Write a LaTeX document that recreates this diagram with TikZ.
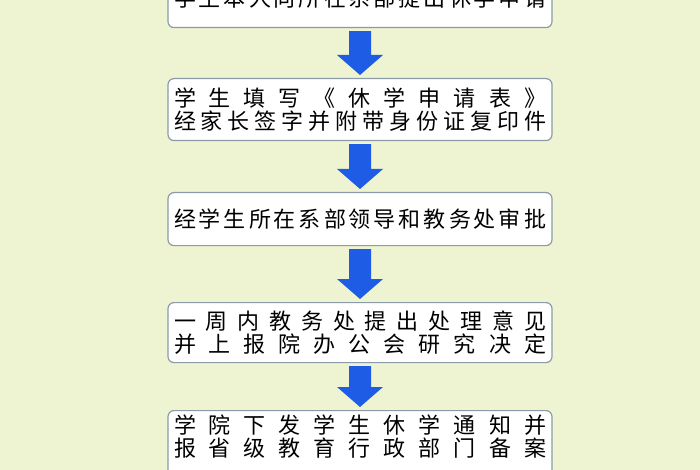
\documentclass[tikz,border=0pt]{standalone}
\usepackage{fontspec}
\usetikzlibrary{calc}
\newfontfamily\cjk{Noto Sans CJK SC}
\newcommand{\spreadtxt}[1]{\makebox[372pt][s]{#1}}
\definecolor{bgc}{HTML}{EEF4D2}
\definecolor{arrc}{HTML}{1E5CE6}
\definecolor{bordc}{HTML}{8C9AA8}
\begin{document}
\begin{tikzpicture}[x=1pt,y=-1pt,
  stepbox/.style={draw=bordc,line width=1.2pt,fill=white,rounded corners=6pt,minimum width=384pt,anchor=north,font=\cjk\fontsize{22}{25}\selectfont,align=center,inner sep=0pt},
  downarrow/.style={fill=arrc,draw=none}]
\useasboundingbox (0,0) rectangle (700,470);
\clip (0,0) rectangle (700,470);
\fill[bgc] (0,0) rectangle (700,470);
\node[stepbox,minimum height=60pt] (b1) at (360,-33) {\spreadtxt{学\hfill 生\hfill 本\hfill 人\hfill 向\hfill 所\hfill 在\hfill 系\hfill 部\hfill 提\hfill 出\hfill 休\hfill 学\hfill 申\hfill 请}};
\node[stepbox,minimum height=62pt] (b2) at (360,78) {\spreadtxt{学\hfill 生\hfill 填\hfill 写\hfill 《\hfill 休\hfill 学\hfill 申\hfill 请\hfill 表\hfill 》}\\[-2pt]\spreadtxt{经\hfill 家\hfill 长\hfill 签\hfill 字\hfill 并\hfill 附\hfill 带\hfill 身\hfill 份\hfill 证\hfill 复\hfill 印\hfill 件}};
\node[stepbox,minimum height=53pt] (b3) at (360,192) {\spreadtxt{经\hfill 学\hfill 生\hfill 所\hfill 在\hfill 系\hfill 部\hfill 领\hfill 导\hfill 和\hfill 教\hfill 务\hfill 处\hfill 审\hfill 批}};
\node[stepbox,minimum height=60pt] (b4) at (360,302) {\spreadtxt{一\hfill 周\hfill 内\hfill 教\hfill 务\hfill 处\hfill 提\hfill 出\hfill 处\hfill 理\hfill 意\hfill 见}\\[-2pt]\spreadtxt{并\hfill 上\hfill 报\hfill 院\hfill 办\hfill 公\hfill 会\hfill 研\hfill 究\hfill 决\hfill 定}};
\node[stepbox,minimum height=76pt,text depth=0pt] (b5) at (360,410) {\rule{0pt}{0pt}\\[-2pt]\spreadtxt{学\hfill 院\hfill 下\hfill 发\hfill 学\hfill 生\hfill 休\hfill 学\hfill 通\hfill 知\hfill 并}\\[-2pt]\spreadtxt{报\hfill 省\hfill 级\hfill 教\hfill 育\hfill 行\hfill 政\hfill 部\hfill 门\hfill 备\hfill 案}\\[6pt]};
\foreach \a/\b in {b1/b2,b2/b3,b3/b4,b4/b5}{
  \path (\a.south) ++(0,3) coordinate (s) (\b.north) ++(0,-3) coordinate (e);
  \fill[downarrow] ($(s)+(-11,0)$) -- ($(s)+(11,0)$) -- ($(e)+(11,-20)$) -- ($(e)+(23,-20)$) -- (e) -- ($(e)+(-23,-20)$) -- ($(e)+(-11,-20)$) -- cycle;
}
\end{tikzpicture}
\end{document}
